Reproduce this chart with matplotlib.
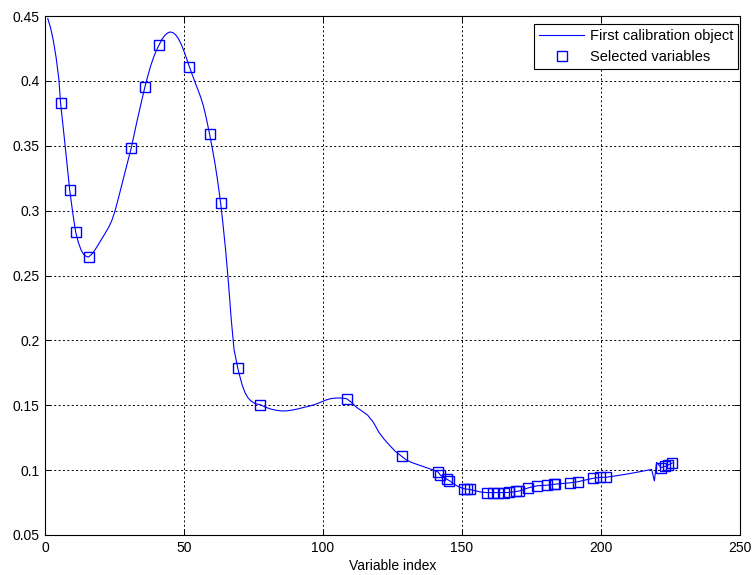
import matplotlib
matplotlib.use("Agg")
import matplotlib.pyplot as plt

# Spectrum of the first calibration object
line_x = [1, 2, 3, 4, 5, 5.6, 6, 7, 8, 8.9, 10, 11, 12, 13, 14, 15, 15.7, 17, 18, 19,
          20, 21, 22, 23, 24, 25, 26, 27, 28, 29, 30, 31, 32, 33, 34, 35, 35.9, 37, 38, 39,
          40, 41.1, 42, 43, 44, 45, 46, 47, 48, 49, 50, 51, 51.9, 53, 54, 55, 56, 57, 58, 59.2,
          60, 61, 62, 63.2, 64, 65, 66, 67, 68, 69.3, 70, 71, 72, 73, 74, 75, 76, 77.4, 79, 81,
          83, 85, 87, 89, 91, 93, 95, 97, 99, 101, 103, 105, 107, 108.5, 110, 112, 114, 116, 118, 119,
          120, 122, 124, 126, 128.3, 130, 132, 134, 136, 138, 140, 141.3, 142.2, 143, 144.6, 145.4, 147, 148.5,
          150.6, 151.8, 152.8, 155, 157, 159, 161, 163, 165, 167, 169.6, 170.6, 172, 173.7, 175, 177,
          179, 180.7, 182, 183.2, 183.6, 186, 188.8, 191.8, 194, 197.2, 199.5, 201.8, 205, 210, 215,
          218.2, 219.2, 220, 221.6, 223, 224.2, 225.6]
line_y = [0.448, 0.441, 0.431, 0.418, 0.401, 0.383, 0.375, 0.355, 0.334, 0.3157, 0.298, 0.2838,
          0.2755, 0.2695, 0.2660, 0.2645, 0.2643, 0.2668, 0.2698, 0.2732, 0.2768, 0.2803, 0.2838,
          0.2875, 0.2922, 0.2985, 0.3062, 0.3145, 0.3230, 0.3315, 0.3398, 0.3480, 0.3580, 0.3680,
          0.3775, 0.3868, 0.3950, 0.4040, 0.4115, 0.4178, 0.4232, 0.4280, 0.4318, 0.4348, 0.4368,
          0.4377, 0.4372, 0.4355, 0.4325, 0.4282, 0.4228, 0.4168, 0.4110, 0.4045, 0.3988, 0.3932,
          0.3875, 0.3805, 0.3715, 0.3590, 0.3500, 0.3382, 0.3245, 0.3056, 0.2900, 0.2690, 0.2440,
          0.2160, 0.1930, 0.1790, 0.1730, 0.1650, 0.1595, 0.1558, 0.1535, 0.1520, 0.1510, 0.1505,
          0.1488, 0.1472, 0.1462, 0.1456, 0.1457, 0.1463, 0.1472, 0.1483, 0.1493, 0.1505, 0.1522,
          0.1540, 0.1552, 0.1556, 0.1555, 0.1550, 0.1527, 0.1485, 0.1455, 0.1425, 0.1372, 0.1335,
          0.1295, 0.1238, 0.1190, 0.1145, 0.1106, 0.1078, 0.1058, 0.1043, 0.1028, 0.1013, 0.0998,
          0.0987, 0.0962, 0.0948, 0.0929, 0.0920, 0.0895, 0.0875, 0.0857, 0.0853, 0.0851, 0.0840,
          0.0830, 0.0827, 0.0827, 0.0827, 0.0827, 0.0828, 0.0836, 0.0839, 0.0850, 0.0862, 0.0870,
          0.0879, 0.0882, 0.0884, 0.0888, 0.0891, 0.0892, 0.0897, 0.0902, 0.0911, 0.0922, 0.0937,
          0.0944, 0.0945, 0.0955, 0.0972, 0.0992, 0.1005, 0.0917, 0.1060, 0.1020, 0.1028, 0.1040,
          0.1055]

# Selected variables
sel_x = [5.6, 8.9, 11.0, 15.7, 31.0, 35.9, 41.1, 51.9, 59.2, 63.2, 69.3, 77.4, 108.5, 128.3,
         141.3, 142.2, 144.6, 145.4, 150.6, 151.8, 152.8, 159, 161, 163, 165, 167, 169.6, 170.6,
         173.7, 177.0, 180.7, 183.2, 183.6, 188.8, 191.8, 197.2, 199.5, 201.8, 221.6, 223.0,
         224.2, 225.6]
sel_y = [0.383, 0.3157, 0.2838, 0.2643, 0.348, 0.395, 0.428, 0.411, 0.359, 0.3056, 0.179,
         0.1505, 0.155, 0.1106, 0.0987, 0.0962, 0.0929, 0.0920, 0.0857, 0.0853, 0.0851, 0.0827,
         0.0827, 0.0827, 0.0827, 0.0828, 0.0836, 0.0839, 0.0862, 0.0879, 0.0884, 0.0891, 0.0892,
         0.0902, 0.0911, 0.0937, 0.0944, 0.0945, 0.1020, 0.1028, 0.1040, 0.1055]

x_ticks = [0, 50, 100, 150, 200, 250]
y_ticks = [0.05, 0.1, 0.15, 0.2, 0.25, 0.3, 0.35, 0.4, 0.45]
y_labels = ["0.05", "0.1", "0.15", "0.2", "0.25", "0.3", "0.35", "0.4", "0.45"]

plt.rcParams['font.family'] = ['Liberation Sans', 'DejaVu Sans']
plt.rcParams['font.size'] = 10

BLUE = (0.0, 0.0, 1.0)

fig = plt.figure(figsize=(7.56, 5.75), dpi=100)
fig.patch.set_facecolor('white')
ax = fig.add_axes([45 / 756, 40 / 575, 695 / 756, 519 / 575])

ax.plot(line_x, line_y, color=BLUE, linewidth=0.8, label='First calibration object')
ax.plot(sel_x, sel_y, linestyle='none', marker='s', markersize=6.5, markerfacecolor='none',
        markeredgecolor=BLUE, markeredgewidth=1.0, label='Selected variables')

ax.set_xlim(0, 250)
ax.set_ylim(0.05, 0.45)
ax.set_xticks(x_ticks)
ax.set_xticklabels([str(v) for v in x_ticks])
ax.set_yticks(y_ticks)
ax.set_yticklabels(y_labels)
ax.grid(True, color='black', linestyle=(0, (2, 2.5)), linewidth=0.7)
ax.tick_params(direction='in', length=4, width=0.7, top=True, right=True, colors='black',
               labelsize=10, pad=4)
for s in ax.spines.values():
    s.set_linewidth(0.8)
    s.set_color('black')

ax.set_xlabel('Variable index', fontsize=10, labelpad=3)

leg = ax.legend(loc='upper right', bbox_to_anchor=(1 - 2 / 695, 1 - 8 / 519), fancybox=False,
                framealpha=1, edgecolor='black', fontsize=10.5, handlelength=3.1,
                handletextpad=0.35, borderpad=0.35, labelspacing=0.5, borderaxespad=0)
leg.get_frame().set_linewidth(0.8)

fig.savefig('out.png', dpi=100)
